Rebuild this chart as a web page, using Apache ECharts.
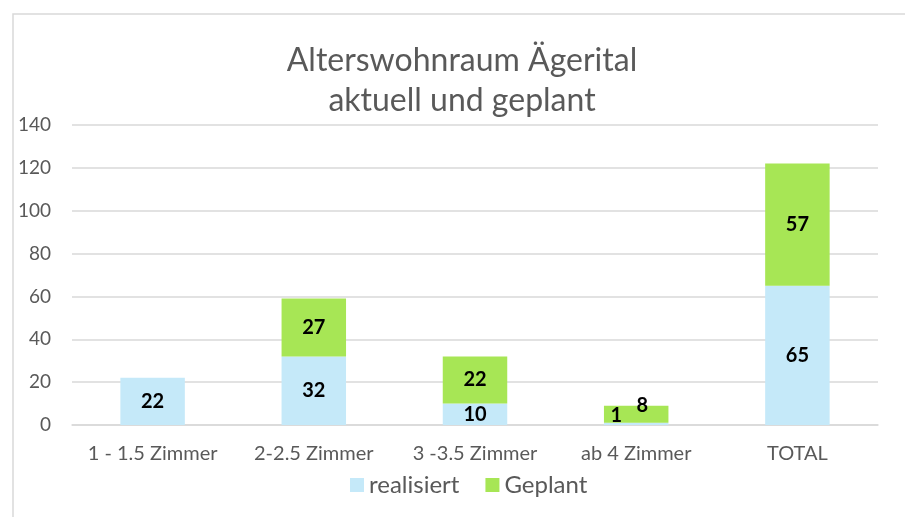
<!DOCTYPE html>
<html>
<head>
<meta charset="utf-8">
<script src="https://cdn.jsdelivr.net/npm/echarts@6/dist/echarts.min.js"></script>
<style>
    html, body { margin: 0; padding: 0; background: #fff; }
    #chart { width: 905px; height: 517px; }
</style>
</head>
<body>
<div id="chart"></div>
<script>
const categories = ['1 - 1.5 Zimmer', '2-2.5 Zimmer', '3 -3.5 Zimmer', 'ab 4 Zimmer', 'TOTAL'];
const realisiert = [22, 32, 10, 1, 65];
const geplant = [null, 27, 22, 8, 57];
const yTicks = { min: 0, max: 140, interval: 20 };

const font = 'Lato, "Open Sans", sans-serif';
const myChart = echarts.init(document.getElementById('chart'), null, { renderer: 'canvas' });

// Beschriftung der Segmente (fett, schwarz)
const barLabel = {
    show: true,
    position: 'inside',
    color: '#000',
    fontWeight: 'bold',
    fontSize: 20,
    fontFamily: font,
    formatter: p => (p.value == null ? '' : p.value),
};

const option = {
    animation: false,
    graphic: [{
        type: 'rect',
        shape: { x: 13, y: 14, width: 1000, height: 600 },
        style: { fill: 'none', stroke: '#d9d9d9', lineWidth: 1.5 },
    }],
    title: {
        text: 'Alterswohnraum Ägerital\naktuell und geplant',
        left: 457,
        top: 36,
        textAlign: 'center',
        textStyle: {
            color: '#595959',
            fontSize: 32,
            fontWeight: 'normal',
            fontFamily: font,
            lineHeight: 40,
        },
    },
    legend: {
        bottom: 15,
        left: 345,
        itemWidth: 14,
        itemHeight: 14,
        itemGap: 26,
        icon: 'rect',
        textStyle: { color: '#595959', fontSize: 24, fontFamily: font },
        data: ['realisiert', 'Geplant'],
    },
    grid: { left: 72, right: 27, top: 125, bottom: 92 },
    xAxis: {
        type: 'category',
        data: categories,
        axisLine: { lineStyle: { color: '#d9d9d9', width: 1.5 } },
        axisTick: { show: false },
        axisLabel: {
            color: '#595959',
            fontSize: 20,
            fontFamily: font,
            margin: 19,
            interval: 0,
            hideOverlap: false,
        },
    },
    yAxis: {
        type: 'value',
        min: yTicks.min,
        max: yTicks.max,
        interval: yTicks.interval,
        axisLine: { show: false },
        axisTick: { show: false },
        axisLabel: { color: '#595959', fontSize: 19, fontFamily: font, margin: 21 },
        splitLine: { lineStyle: { color: '#d9d9d9', width: 1.5 } },
    },
    series: [
        {
            name: 'realisiert',
            type: 'bar',
            stack: 'a',
            barWidth: '40%',
            itemStyle: { color: '#c5e9f9' },
            label: barLabel,
            // kleines Segment: Label von Hand verschoben wie im Original
            data: realisiert.map((v, i) => (i === 3
                ? { value: v, label: { offset: [-20, -8] } }
                : v)),
        },
        {
            name: 'Geplant',
            type: 'bar',
            stack: 'a',
            barWidth: '40%',
            itemStyle: { color: '#a7e655' },
            label: barLabel,
            data: geplant.map((v, i) => (i === 3
                ? { value: v, label: { offset: [6, -9] } }
                : v)),
        },
    ],
};
myChart.setOption(option);
</script>
</body>
</html>
